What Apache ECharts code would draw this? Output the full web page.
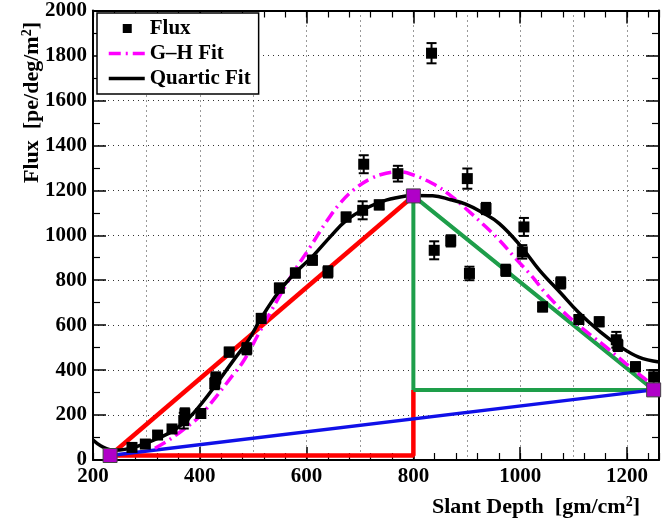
<!DOCTYPE html>
<html><head><meta charset="utf-8">
<script src="https://cdn.jsdelivr.net/npm/echarts@6/dist/echarts.min.js"></script>
<style>html,body{margin:0;padding:0;background:#fff}#c{width:662px;height:521px}</style>
</head><body><div id="c"></div>
<script>
// Measured flux points
const fluxX   = [273, 298, 321, 348, 370, 372, 402, 428, 430, 455, 488, 515, 549, 579, 611, 640, 674, 705, 707, 736, 771, 834, 839, 870, 901, 905, 936, 973, 1004, 1007, 1042, 1076, 1110, 1148, 1180, 1183, 1216, 1250];
const fluxY   = [56, 71, 111, 138, 175, 205, 207, 340, 365, 480, 495, 630, 765, 832, 889, 837, 1081, 1111, 1316, 1135, 1274, 1810, 933, 975, 1252, 830, 1119, 844, 926, 1037, 681, 788, 625, 615, 535, 510, 415, 370];
const fluxErr = [15, 15, 15, 18, 35, 25, 20, 25, 25, 20, 25, 20, 20, 20, 20, 25, 20, 40, 40, 20, 35, 45, 40, 25, 45, 30, 25, 25, 30, 40, 20, 25, 20, 20, 35, 25, 20, 30];

// Quartic fit curve
const quarticX = [200, 215, 232, 250, 275, 300, 325, 350, 381, 424, 462, 493, 512, 550, 581, 612, 645, 674, 711, 749, 786, 800, 836, 870, 898, 930, 961, 1000, 1036, 1075, 1110, 1150, 1185, 1222, 1260];
const quarticY = [89, 62, 46, 45, 55, 75, 100, 130, 190, 315, 440, 540, 620, 755, 838, 908, 995, 1065, 1120, 1156, 1175, 1177, 1176, 1158, 1138, 1100, 1052, 955, 845, 745, 655, 570, 508, 458, 436];

// Gaisser-Hillas fit curve
const ghX = [316, 340, 356, 371, 400, 430, 462, 481, 512, 531, 574, 606, 637, 662, 687, 720, 749, 774, 800, 836, 868, 898, 930, 961, 992, 1023, 1048, 1098, 1160, 1200, 1229, 1242];
const ghY = [52, 85, 112, 138, 195, 280, 378, 437, 570, 652, 830, 945, 1060, 1140, 1200, 1252, 1276, 1282, 1268, 1230, 1180, 1119, 1050, 978, 895, 815, 741, 622, 504, 425, 370, 345];

// Geometric construction points
const fitStart = [232, 20];
const fitPeak  = [800, 1175];
const fitEnd   = [1250, 312];
const baseY    = 20;

const xMin = 200, xMax = 1260, yMin = 0, yMax = 2000;

const FONT = "'Liberation Serif','Times New Roman',serif";
const dotted = {show: true, lineStyle: {color: '#333', width: 1, type: [1, 4]}};

const chart = echarts.init(document.getElementById('c'), null, {renderer: 'canvas'});

const xCommon = {type: 'value', min: xMin, max: xMax, splitLine: {show: false}};
const yCommon = {type: 'value', min: yMin, max: yMax, splitLine: {show: false}};
const labelStyle = {fontFamily: FONT, fontWeight: 'bold', fontSize: 21, color: '#000', formatter: v => String(v)};
const hiddenIcon = {opacity: 0, color: 'transparent', borderColor: 'transparent', borderWidth: 0};

chart.setOption({
  animation: false,
  grid: {left: 93, right: 3, top: 10, bottom: 61},
  xAxis: [
    Object.assign({}, xCommon, {position: 'bottom', interval: 200,
      axisLine: {show: true, lineStyle: {color: '#000', width: 2}},
      axisTick: {show: true, inside: true, length: 13, lineStyle: {color: '#000', width: 1.5}},
      axisLabel: Object.assign({show: true, margin: 6, showMaxLabel: false}, labelStyle)}),
    Object.assign({}, xCommon, {position: 'bottom', interval: 40,
      axisLine: {show: false},
      axisTick: {show: true, inside: true, length: 7, lineStyle: {color: '#000', width: 1.2}},
      axisLabel: {show: false}}),
    Object.assign({}, xCommon, {position: 'top', interval: 200,
      axisLine: {show: true, lineStyle: {color: '#000', width: 2}},
      axisTick: {show: true, inside: true, length: 13, lineStyle: {color: '#000', width: 1.5}},
      axisLabel: {show: false}}),
    Object.assign({}, xCommon, {position: 'top', interval: 40,
      axisLine: {show: false},
      axisTick: {show: true, inside: true, length: 7, lineStyle: {color: '#000', width: 1.2}},
      axisLabel: {show: false}}),
    Object.assign({}, xCommon, {position: 'bottom', interval: 100,
      axisLine: {show: false}, axisTick: {show: false}, axisLabel: {show: false},
      splitLine: dotted})
  ],
  yAxis: [
    Object.assign({}, yCommon, {position: 'left', interval: 200,
      axisLine: {show: true, lineStyle: {color: '#000', width: 2}},
      axisTick: {show: true, inside: true, length: 13, lineStyle: {color: '#000', width: 1.5}},
      minorTick: {show: true, splitNumber: 2, length: 7, lineStyle: {color: '#000', width: 1.2}},
      axisLabel: Object.assign({show: true, margin: 6}, labelStyle),
      splitLine: dotted}),
    Object.assign({}, yCommon, {position: 'right', interval: 200,
      axisLine: {show: true, lineStyle: {color: '#000', width: 2}},
      axisTick: {show: true, inside: true, length: 13, lineStyle: {color: '#000', width: 1.5}},
      minorTick: {show: true, splitNumber: 2, length: 7, lineStyle: {color: '#000', width: 1.2}},
      axisLabel: {show: false}})
  ],
  legend: {
    orient: 'vertical', left: 97, top: 13,
    padding: [5, 8, 5, 10], itemWidth: 36, itemHeight: 14, itemGap: 4,
    backgroundColor: '#fff', borderColor: '#000', borderWidth: 1.5,
    textStyle: {fontFamily: FONT, fontWeight: 'bold', fontSize: 21, color: '#000'},
    data: [
      {name: 'Flux', icon: 'path://M0,0M36,14M14,2.5h9v9h-9z', itemStyle: {color: '#000', opacity: 1}},
      {name: 'G\u2013H Fit', itemStyle: hiddenIcon, lineStyle: {width: 3.5}},
      {name: 'Quartic Fit', itemStyle: hiddenIcon, lineStyle: {width: 3.5}}
    ]
  },
  graphic: [
    {type: 'text', x: 640, y: 507, z: 100,
      style: {text: 'Slant Depth  [gm/cm{s|2}]', fill: '#000', font: 'bold 22px ' + FONT,
        textAlign: 'right', textVerticalAlign: 'middle',
        rich: {s: {fontSize: 14, fontWeight: 'bold', fontFamily: FONT, verticalAlign: 'top', padding: [0, 0, 10, 0]}}}},
    {type: 'text', x: 32, y: 22, rotation: Math.PI / 2, z: 100,
      style: {text: 'Flux  [pe/deg/m{s|2}]', fill: '#000', font: 'bold 22px ' + FONT,
        textAlign: 'right', textVerticalAlign: 'middle',
        rich: {s: {fontSize: 14, fontWeight: 'bold', fontFamily: FONT, verticalAlign: 'top', padding: [0, 0, 10, 0]}}}}
  ],
  series: [
    {name: 'red', type: 'line', symbol: 'none', z: 2, silent: true,
      lineStyle: {color: '#ff0000', width: 4.5},
      data: [fitStart, fitPeak]},
    {name: 'redStep', type: 'line', symbol: 'none', z: 2, silent: true,
      lineStyle: {color: '#ff0000', width: 4.5},
      data: [fitStart, [fitPeak[0], baseY], [fitPeak[0], fitEnd[1]]]},
    {name: 'green', type: 'line', symbol: 'none', z: 2, silent: true,
      lineStyle: {color: '#1e9e4a', width: 4},
      data: [[fitPeak[0], fitEnd[1]], fitPeak, fitEnd, [fitPeak[0], fitEnd[1]]]},
    {name: 'blue', type: 'line', symbol: 'none', z: 2, silent: true,
      lineStyle: {color: '#1010e8', width: 3.5},
      data: [fitStart, fitEnd]},
    {name: 'G\u2013H Fit', type: 'line', symbol: 'none', smooth: 0.4, z: 3,
      lineStyle: {color: '#ff00ff', width: 3.5, type: [12, 5, 2, 5]},
      itemStyle: {color: '#ff00ff'},
      data: ghX.map((x, i) => [x, ghY[i]])},
    {name: 'Quartic Fit', type: 'line', symbol: 'none', smooth: 0.4, z: 4,
      lineStyle: {color: '#000', width: 3.5},
      itemStyle: {color: '#000'},
      data: quarticX.map((x, i) => [x, quarticY[i]])},
    {name: 'errors', type: 'custom', z: 5, silent: true,
      encode: {x: 0, y: 1},
      renderItem: function (params, api) {
        const x = api.value(0), y = api.value(1), e = api.value(2);
        const t = api.coord([x, y + e]), b = api.coord([x, y - e]);
        const w = 5, st = {stroke: '#000', lineWidth: 2};
        return {type: 'group', children: [
          {type: 'line', shape: {x1: t[0], y1: t[1], x2: b[0], y2: b[1]}, style: st},
          {type: 'line', shape: {x1: t[0] - w, y1: t[1], x2: t[0] + w, y2: t[1]}, style: st},
          {type: 'line', shape: {x1: b[0] - w, y1: b[1], x2: b[0] + w, y2: b[1]}, style: st}
        ]};
      },
      data: fluxX.map((x, i) => [x, fluxY[i], fluxErr[i]])},
    {name: 'Flux', type: 'scatter', symbol: 'rect', symbolSize: 11, z: 6,
      itemStyle: {color: '#000', opacity: 1},
      data: fluxX.map((x, i) => [x, fluxY[i]])},
    {name: 'fitPoints', type: 'scatter', symbol: 'rect', symbolSize: 14, z: 7, silent: true,
      itemStyle: {color: '#b000c8', borderColor: '#444', borderWidth: 1, opacity: 1},
      data: [fitStart, fitPeak, fitEnd]}
  ]
});
</script>
</body></html>
